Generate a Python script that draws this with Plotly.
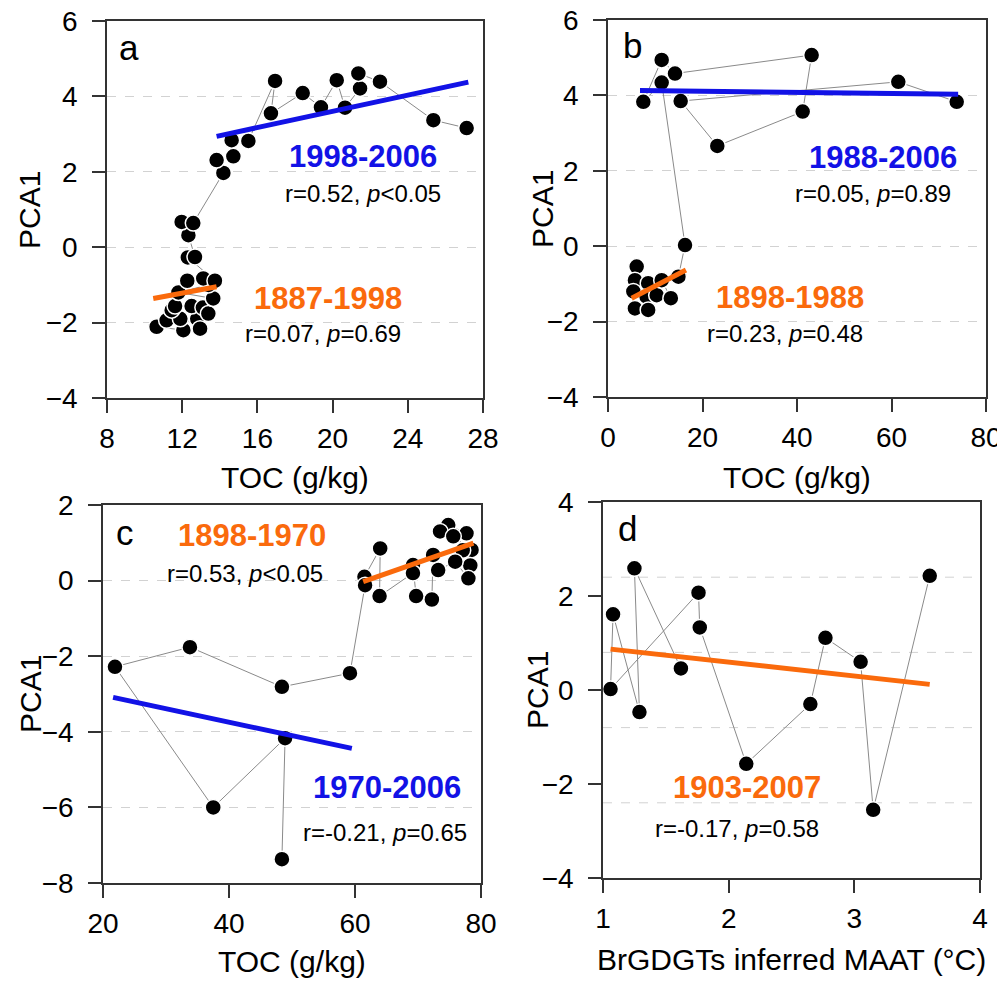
import plotly.graph_objects as go

# the page body has an 8 px margin, so the figure is drawn 8 px in from the window corner
OFF = 8
W, H = 1005 - OFF, 981 - OFF

# ---------------- data ----------------
# Panel a (time order)
a_toc = [12.06, 10.64, 11.17, 11.9, 12.8, 12.95, 11.44, 11.62, 12.5, 13.1, 13.39, 13.65, 11.8, 13.4,
         12.27, 13.12, 13.74, 12.3, 12.68, 12.33, 11.97, 12.59, 14.19, 13.83, 14.72, 14.63, 15.52,
         16.94, 16.72, 18.41, 19.38, 20.22, 20.66, 21.46, 21.37, 22.52, 25.36, 27.13]
a_pca = [-2.2, -2.11, -1.94, -1.9, -1.9, -2.16, -1.67, -1.56, -1.56, -1.6, -1.76, -1.36, -1.2, -1.0,
         -0.89, -0.83, -0.89, -0.27, -0.26, 0.32, 0.67, 0.64, 1.97, 2.31, 2.41, 2.84, 2.82,
         4.41, 3.55, 4.09, 3.71, 4.43, 3.70, 4.21, 4.61, 4.39, 3.37, 3.16]
a_fit_old_x = [10.46, 13.83]
a_fit_old_y = [-1.36, -1.05]
a_fit_new_x = [13.83, 27.22]
a_fit_new_y = [2.94, 4.38]

# Panel b
b_toc = [6.07, 5.7, 8.5, 5.36, 8.17, 5.7, 8.5, 10.3, 13.3, 11.36, 14.9, 16.3,
         11.36, 7.47, 11.36, 14.18, 43.1, 41.2, 23.13, 15.38, 61.44, 73.8]
b_pca = [-0.54, -0.9, -0.98, -1.2, -1.34, -1.65, -1.69, -1.3, -1.38, -0.9, -0.81, 0.03,
         4.34, 3.83, 4.94, 4.58, 5.07, 3.57, 2.66, 3.85, 4.36, 3.83]
b_fit_old_x = [5.0, 16.5]
b_fit_old_y = [-1.38, -0.63]
b_fit_new_x = [6.77, 74.1]
b_fit_new_y = [4.13, 4.03]

# Panel c
c_toc = [77.7, 74.8, 73.5, 75.6, 78.5, 77.1, 78.3, 78.0, 75.9, 73.2, 72.4, 72.2, 69.7, 69.2, 69.2,
         63.9, 64.0, 61.5, 61.6, 59.2, 48.4, 33.8, 21.9, 37.5, 48.9, 48.4]
c_pca = [1.25, 1.47, 1.3, 1.17, 0.81, 0.8, 0.4, 0.06, 0.5, 0.28, 0.68, -0.5, -0.41, 0.41, 0.2,
         -0.41, 0.85, 0.1, -0.12, -2.45, -2.81, -1.76, -2.28, -6.0, -4.17, -7.37]
c_fit_old_x = [61.3, 78.8]
c_fit_old_y = [-0.03, 0.99]
c_fit_new_x = [21.6, 59.5]
c_fit_new_y = [-3.09, -4.44]

# Panel d
d_maat = [1.62, 1.25, 1.29, 1.08, 1.06, 1.76, 1.77, 2.14, 2.65, 2.77, 3.05, 3.15, 3.60]
d_pca = [0.46, 2.59, -0.47, 1.61, 0.02, 2.07, 1.33, -1.57, -0.30, 1.11, 0.60, -2.55, 2.43]
d_fit_x = [1.06, 3.60]
d_fit_y = [0.87, 0.12]
d_grid = [-2.4, -0.8, 0.8, 2.4]

BLUE = "#1212e6"
ORANGE = "#fa6a0c"
FONT = "Arial, Liberation Sans, sans-serif"

fig = go.Figure()

def pts(x, y, xa, ya):
    fig.add_trace(go.Scatter(
        x=x, y=y, xaxis=xa, yaxis=ya, mode="lines+markers",
        line=dict(color="#8a8a8a", width=1),
        marker=dict(size=16, color="black", line=dict(color="white", width=1.5)),
        cliponaxis=False, showlegend=False, hoverinfo="skip"))

def fit(x, y, xa, ya, color):
    fig.add_trace(go.Scatter(
        x=x, y=y, xaxis=xa, yaxis=ya, mode="lines",
        line=dict(color=color, width=5), cliponaxis=False,
        showlegend=False, hoverinfo="skip"))

pts(a_toc, a_pca, "x", "y")
fit(a_fit_old_x, a_fit_old_y, "x", "y", ORANGE)
fit(a_fit_new_x, a_fit_new_y, "x", "y", BLUE)
pts(b_toc, b_pca, "x2", "y2")
fit(b_fit_old_x, b_fit_old_y, "x2", "y2", ORANGE)
fit(b_fit_new_x, b_fit_new_y, "x2", "y2", BLUE)
pts(c_toc, c_pca, "x3", "y3")
fit(c_fit_old_x, c_fit_old_y, "x3", "y3", ORANGE)
fit(c_fit_new_x, c_fit_new_y, "x3", "y3", BLUE)
pts(d_maat, d_pca, "x4", "y4")
fit(d_fit_x, d_fit_y, "x4", "y4", ORANGE)

def px(xp):
    return (xp - OFF) / W

def py(yp):
    return 1 - (yp - OFF) / H

def axis(rng, dtick, domain, anchor, grid, lab_pad):
    return dict(range=rng, dtick=dtick, tick0=rng[0], domain=domain, anchor=anchor,
                automargin=False, ticklabeloverflow="allow",
                showline=True, linecolor="#333", linewidth=1.5, mirror=True,
                ticks="outside", ticklen=13, tickwidth=1.5, tickcolor="#333",
                ticklabelstandoff=lab_pad,
                tickfont=dict(size=28, color="black", family=FONT),
                zeroline=False, showgrid=grid, gridcolor="#d2d2d2", griddash="dash", gridwidth=1)

fig.update_layout(
    width=W, height=H, margin=dict(l=0, r=0, t=0, b=0),
    paper_bgcolor="white", plot_bgcolor="white",
    font=dict(family=FONT, color="black"),
    xaxis=axis([8, 28], 4, [px(107), px(483)], "y", False, 2),
    yaxis=axis([-4, 6], 2, [py(398), py(21)], "x", True, 9),
    xaxis2=axis([0, 80], 20, [px(608), px(986)], "y2", False, 2),
    yaxis2=axis([-4, 6], 2, [py(397), py(20)], "x2", True, 9),
    xaxis3=axis([20, 80], 20, [px(103), px(481)], "y3", False, 2),
    yaxis3=axis([-8, 2], 2, [py(883), py(505)], "x3", True, 9),
    xaxis4=axis([1, 4], 1, [px(603), px(980)], "y4", False, 2),
    yaxis4=axis([-4, 4], 2, [py(878), py(502)], "x4", False, 9),
)

for g in d_grid:
    fig.add_shape(type="line", xref="x4 domain", yref="y4", x0=0, x1=1, y0=g, y1=g,
                  line=dict(color="#d2d2d2", width=1, dash="dash"), layer="below")

def txt(text, xp, yp, size, color="black", bold=False, angle=0):
    fig.add_annotation(text=f"<b>{text}</b>" if bold else text, x=px(xp), y=py(yp),
                       xref="paper", yref="paper", xanchor="center", yanchor="middle",
                       textangle=angle, showarrow=False,
                       font=dict(size=size, color=color, family=FONT))

# axis titles
txt("TOC (g/kg)", 295, 477, 30)
txt("TOC (g/kg)", 797, 477, 30)
txt("TOC (g/kg)", 292, 961, 30)
txt("BrGDGTs inferred MAAT (°C)", 791, 959, 30)
txt("PCA1", 30, 210, 30, angle=-90)
txt("PCA1", 542, 209, 30, angle=-90)
txt("PCA1", 30, 694, 30, angle=-90)
txt("PCA1", 537, 690, 30, angle=-90)

# panel letters
txt("a", 129, 47, 35)
txt("b", 632, 45, 35)
txt("c", 125, 532, 35)
txt("d", 627, 528, 35)

# period labels and statistics
txt("1998-2006", 363, 156, 31, BLUE, True)
txt("r=0.52, <i>p</i>&lt;0.05", 363, 194, 24)
txt("1887-1998", 328, 298, 31, ORANGE, True)
txt("r=0.07, <i>p</i>=0.69", 323, 334, 24)

txt("1988-2006", 883, 157, 31, BLUE, True)
txt("r=0.05, <i>p</i>=0.89", 873, 193, 24)
txt("1898-1988", 790, 297, 31, ORANGE, True)
txt("r=0.23, <i>p</i>=0.48", 785, 333, 24)

txt("1898-1970", 252, 535, 31, ORANGE, True)
txt("r=0.53, <i>p</i>&lt;0.05", 245, 573, 24)
txt("1970-2006", 387, 787, 31, BLUE, True)
txt("r=-0.21, <i>p</i>=0.65", 385, 832, 24)

txt("1903-2007", 747, 787, 31, ORANGE, True)
txt("r=-0.17, <i>p</i>=0.58", 737, 828, 24)

fig.write_html("out.html")
